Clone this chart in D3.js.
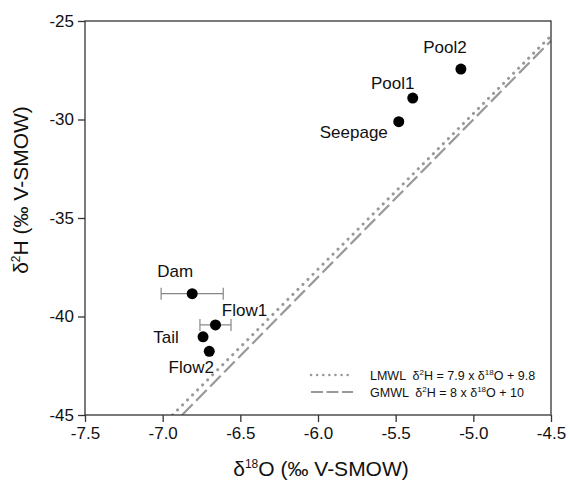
<!DOCTYPE html>
<html>
<head>
<meta charset="utf-8">
<script src="https://cdn.jsdelivr.net/npm/d3@7"></script>
<style>
  html, body { margin: 0; padding: 0; background: #fff; }
  svg { display: block; font-family: "Liberation Sans", Arial, sans-serif; }
</style>
</head>
<body>
<svg id="chart" width="570" height="482"></svg>
<script>
// Sampling sites: δ18O and δ2H (‰ V-SMOW), with δ18O spread where measured
const sites = ["Pool2", "Pool1", "Seepage", "Dam", "Flow1", "Tail", "Flow2"];
const d18O = [-5.08, -5.39, -5.48, -6.81, -6.66, -6.74, -6.70];
const d2H = [-27.44, -28.91, -30.11, -38.84, -40.43, -41.03, -41.77];
const d18OErr = [0, 0, 0, 0.20, 0.10, 0, 0];

// Label offsets relative to each point (text anchor middle)
const labelDx = [-16, -20, -45, -17, 29, -37, -18];
const labelDy = [-16, -9, 16, -17, -9, 6, 22];

// Meteoric water lines: slope, intercept
const lineNames = ["LMWL", "GMWL"];
const lineSlopes = [7.9, 8];
const lineIntercepts = [9.8, 10];

const xTicks = [-7.5, -7.0, -6.5, -6.0, -5.5, -5.0, -4.5];
const yTicks = [-25, -30, -35, -40, -45];

const svg = d3.select("#chart");
const plotL = 85, plotR = 551, plotT = 21, plotB = 415;

const x = d3.scaleLinear().domain([-7.5, -4.5]).range([plotL, plotR]);
const y = d3.scaleLinear().domain([-45, -25]).range([plotB, plotT]);

const axisColor = "#333";
const lineColor = "#999";

// Clip for the water lines
svg.append("defs").append("clipPath").attr("id", "plotClip")
  .append("rect").attr("x", plotL).attr("y", plotT)
  .attr("width", plotR - plotL).attr("height", plotB - plotT);

// Water lines
const lineStyles = [
  { dash: "0.1 7", width: 3, cap: "round" },
  { dash: "15 5", width: 2.2, cap: "butt" }
];
const lineGen = d3.line().x(d => x(d[0])).y(d => y(d[1]));
lineNames.forEach((name, i) => {
  const x0 = (-45 - lineIntercepts[i]) / lineSlopes[i];
  const x1 = -4.5;
  svg.append("path")
    .attr("clip-path", "url(#plotClip)")
    .attr("d", lineGen([[x0, -45], [x1, lineSlopes[i] * x1 + lineIntercepts[i]]]))
    .attr("fill", "none")
    .attr("stroke", lineColor)
    .attr("stroke-width", lineStyles[i].width)
    .attr("stroke-linecap", lineStyles[i].cap)
    .attr("stroke-dasharray", lineStyles[i].dash);
});

// Frame
svg.append("rect")
  .attr("x", plotL).attr("y", plotT)
  .attr("width", plotR - plotL).attr("height", plotB - plotT)
  .attr("fill", "none").attr("stroke", axisColor).attr("stroke-width", 1.3);

// Axes
const xAxis = svg.append("g")
  .attr("transform", `translate(0,${plotB})`)
  .call(d3.axisBottom(x).tickValues(xTicks).tickSize(7).tickPadding(5));
const yAxis = svg.append("g")
  .attr("transform", `translate(${plotL},0)`)
  .call(d3.axisLeft(y).tickValues(yTicks).tickSize(7).tickPadding(4));
[xAxis, yAxis].forEach(g => {
  g.select(".domain").remove();
  g.selectAll(".tick line").attr("stroke", axisColor).attr("stroke-width", 1.3);
  g.selectAll(".tick text")
    .attr("fill", "#111")
    .attr("font-size", 17)
    .attr("font-family", "Liberation Sans, Arial, sans-serif");
});
xAxis.selectAll(".tick text").text(d => d.toFixed(1));
yAxis.selectAll(".tick text").text(d => String(d));

// Error bars
const errColor = "#888";
sites.forEach((s, i) => {
  if (d18OErr[i] > 0) {
    const g = svg.append("g").attr("stroke", errColor).attr("stroke-width", 1.2);
    const cy = y(d2H[i]);
    g.append("line").attr("x1", x(d18O[i] - d18OErr[i])).attr("x2", x(d18O[i] + d18OErr[i]))
      .attr("y1", cy).attr("y2", cy);
    [-1, 1].forEach(sg => {
      const cx = x(d18O[i] + sg * d18OErr[i]);
      g.append("line").attr("x1", cx).attr("x2", cx).attr("y1", cy - 6).attr("y2", cy + 6);
    });
  }
});

// Points
svg.selectAll("circle.pt").data(sites).enter().append("circle")
  .attr("class", "pt")
  .attr("cx", (d, i) => x(d18O[i]))
  .attr("cy", (d, i) => y(d2H[i]))
  .attr("r", 5.5)
  .attr("fill", "#000");

// Point labels
svg.selectAll("text.site").data(sites).enter().append("text")
  .attr("class", "site")
  .attr("x", (d, i) => x(d18O[i]) + labelDx[i])
  .attr("y", (d, i) => y(d2H[i]) + labelDy[i])
  .attr("text-anchor", "middle")
  .attr("font-size", 17)
  .attr("fill", "#111")
  .text(d => d);

// Legend
const legendX = 311, legendY = [375, 392];
const eqParts = [
  ["7.9", "9.8"],
  ["8", "10"]
];
lineNames.forEach((name, i) => {
  svg.append("line")
    .attr("x1", legendX).attr("x2", legendX + 42)
    .attr("y1", legendY[i]).attr("y2", legendY[i])
    .attr("stroke", lineColor)
    .attr("stroke-width", i === 0 ? 2.5 : 2.2)
    .attr("stroke-linecap", lineStyles[i].cap)
    .attr("stroke-dasharray", i === 0 ? "0.1 6" : "12 3.5");
  const t = svg.append("text")
    .attr("x", legendX + 59).attr("y", legendY[i] + 4.5)
    .attr("font-size", 12.5).attr("fill", "#111")
    .attr("xml:space", "preserve")
    .style("white-space", "pre");
  t.append("tspan").text(name + "  δ");
  t.append("tspan").attr("dy", -5).attr("font-size", 8).text("2");
  t.append("tspan").attr("dy", 5).text("H = " + eqParts[i][0] + " x δ");
  t.append("tspan").attr("dy", -5).attr("font-size", 8).text("18");
  t.append("tspan").attr("dy", 5).text("O + " + eqParts[i][1]);
});

// Axis titles
const xt = svg.append("text")
  .attr("x", 321).attr("y", 476)
  .attr("text-anchor", "middle").attr("font-size", 21).attr("fill", "#111");
xt.append("tspan").text("δ");
xt.append("tspan").attr("dy", -8).attr("font-size", 12).text("18");
xt.append("tspan").attr("dy", 8).text("O (‰ V-SMOW)");

const yt = svg.append("text")
  .attr("transform", `translate(28,190) rotate(-90)`)
  .attr("text-anchor", "middle").attr("font-size", 21).attr("fill", "#111");
yt.append("tspan").text("δ");
yt.append("tspan").attr("dy", -8).attr("font-size", 12).text("2");
yt.append("tspan").attr("dy", 8).text("H (‰ V-SMOW)");
</script>
</body>
</html>
